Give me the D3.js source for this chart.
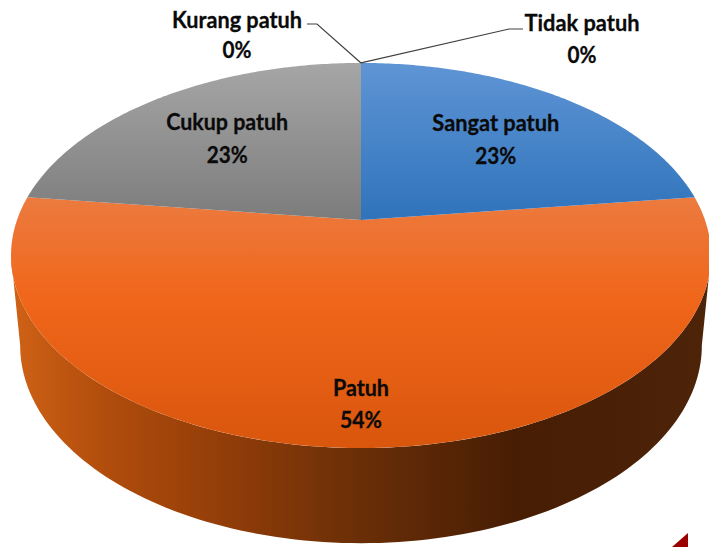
<!DOCTYPE html>
<html><head><meta charset="utf-8">
<script src="https://cdnjs.cloudflare.com/ajax/libs/d3/7.8.5/d3.min.js"></script>
<style>html,body{margin:0;padding:0;background:#fff;overflow:hidden}svg{display:block}
text{font-family:Lato,"Open Sans",sans-serif;font-weight:700;fill:#0a0a0a;stroke:#0a0a0a;stroke-width:0.3;text-anchor:middle}</style>
</head><body>
<script>
const categories = ["Sangat patuh","Patuh","Cukup patuh","Kurang patuh","Tidak patuh"];
const values = [23,54,23,0,0];
const percentLabels = ["23%","54%","23%","0%","0%"];

const W=709,H=547;
const svg=d3.select("body").append("svg").attr("width",W).attr("height",H);
const defs=svg.append("defs");
function grad(id,x1,y1,x2,y2,stops){
  const g=defs.append("linearGradient").attr("id",id).attr("gradientUnits","userSpaceOnUse")
    .attr("x1",x1).attr("y1",y1).attr("x2",x2).attr("y2",y2);
  stops.forEach(([o,c])=>g.append("stop").attr("offset",o).attr("stop-color",c));
}
grad("g0",0,63,0,220,[[0,"#5f95d5"],[1,"#2f73bb"]]);
grad("g2",0,63,0,220,[[0,"#a6a6a6"],[1,"#7c7c7c"]]);
grad("g1",0,200,0,448,[[0,"#ec7a3e"],[0.4,"#f0661a"],[1,"#d9560d"]]);
grad("gw",11,0,709,0,[[0,"#cf6216"],[0.14,"#b04c0c"],[0.32,"#8f3c08"],[0.5,"#6a2e07"],[0.72,"#471e04"],[0.88,"#4a2107"],[1,"#4e2409"]]);

// Perspective projection of the pie disc
const cx=361,cy=220,A=186,B=344,k=-0.1844;
const proj=(a,r=1,ox=cx,oy=cy,aa=A,bb=B)=>{
  const u=r*Math.sin(a),v=-r*Math.cos(a),d=1+k*v;
  return [ox+bb*u/d,oy+aa*v/d];
};
const low=a=>proj(a,1,cx,cy+89,191,335);
const pie=d3.pie().sort(null).value(d=>d).startAngle(0).endAngle(2*Math.PI);
const arcs=pie(values);
const line=d3.line();
const steps=(a0,a1)=>d3.range(0,121).map(i=>a0+(a1-a0)*i/120);

// Extruded wall of the front slice
const rightA=Math.PI*0.5+0.185, leftA=Math.PI*1.5-0.185;
const wallPts=[...steps(rightA,leftA).map(a=>proj(a)),...steps(leftA,rightA).map(low)];
svg.append("path").attr("d",line(wallPts)+"Z").attr("fill","url(#gw)");

// Top face
[1,0,2].forEach(i=>{
  const s=arcs[i];
  const pts=[[cx,cy],...steps(s.startAngle,s.endAngle).map(a=>proj(a))];
  svg.append("path").attr("d",line(pts)+"Z").attr("fill",`url(#g${i})`);
});

// Leader lines for zero slices
const tip=proj(arcs[3].startAngle);
const leader=(pts)=>svg.append("path").attr("d",line(pts)).attr("fill","none").attr("stroke","#404040").attr("stroke-width",1.2);
leader([[307,24],[317,24],tip]);
leader([tip,[509,29],[523,29]]);

// Labels
const labelR=[0.63,0.835,0.63];
const outside={3:[237,19,49],4:[582,22,54]};
const widths={0:127,1:56,2:122,3:130,4:115};
const pctWidths={0:41,1:42,2:41,3:29,4:29};
function lbl(x,y,t,w){
  svg.append("text").attr("x",x).attr("y",y).attr("dominant-baseline","central")
    .attr("font-size",23).attr("textLength",w).attr("lengthAdjust","spacingAndGlyphs").text(t);
}
categories.forEach((c,i)=>{
  if(values[i]>0){
    const s=arcs[i],p=proj((s.startAngle+s.endAngle)/2,labelR[i]);
    const dy=i===1?16:16.5;
    const xo=i===0?3:(i===2?-2:0);
    const yo=i===2?-1.5:(i===0?-0.5:-0.5);
    lbl(p[0]+xo,p[1]-dy+yo,c,widths[i]);
    lbl(p[0]+xo,p[1]+dy+yo,percentLabels[i],pctWidths[i]);
  } else {
    const [x,y1,y2]=outside[i];
    lbl(x,y1,c,widths[i]);
    lbl(x,y2-0.5,percentLabels[i],pctWidths[i]);
  }
});

// Corner decoration
svg.append("path").attr("d",d3.line()([[672,547],[688,533],[688,547]])+"Z").attr("fill","#9a0000");
</script>
</body></html>
